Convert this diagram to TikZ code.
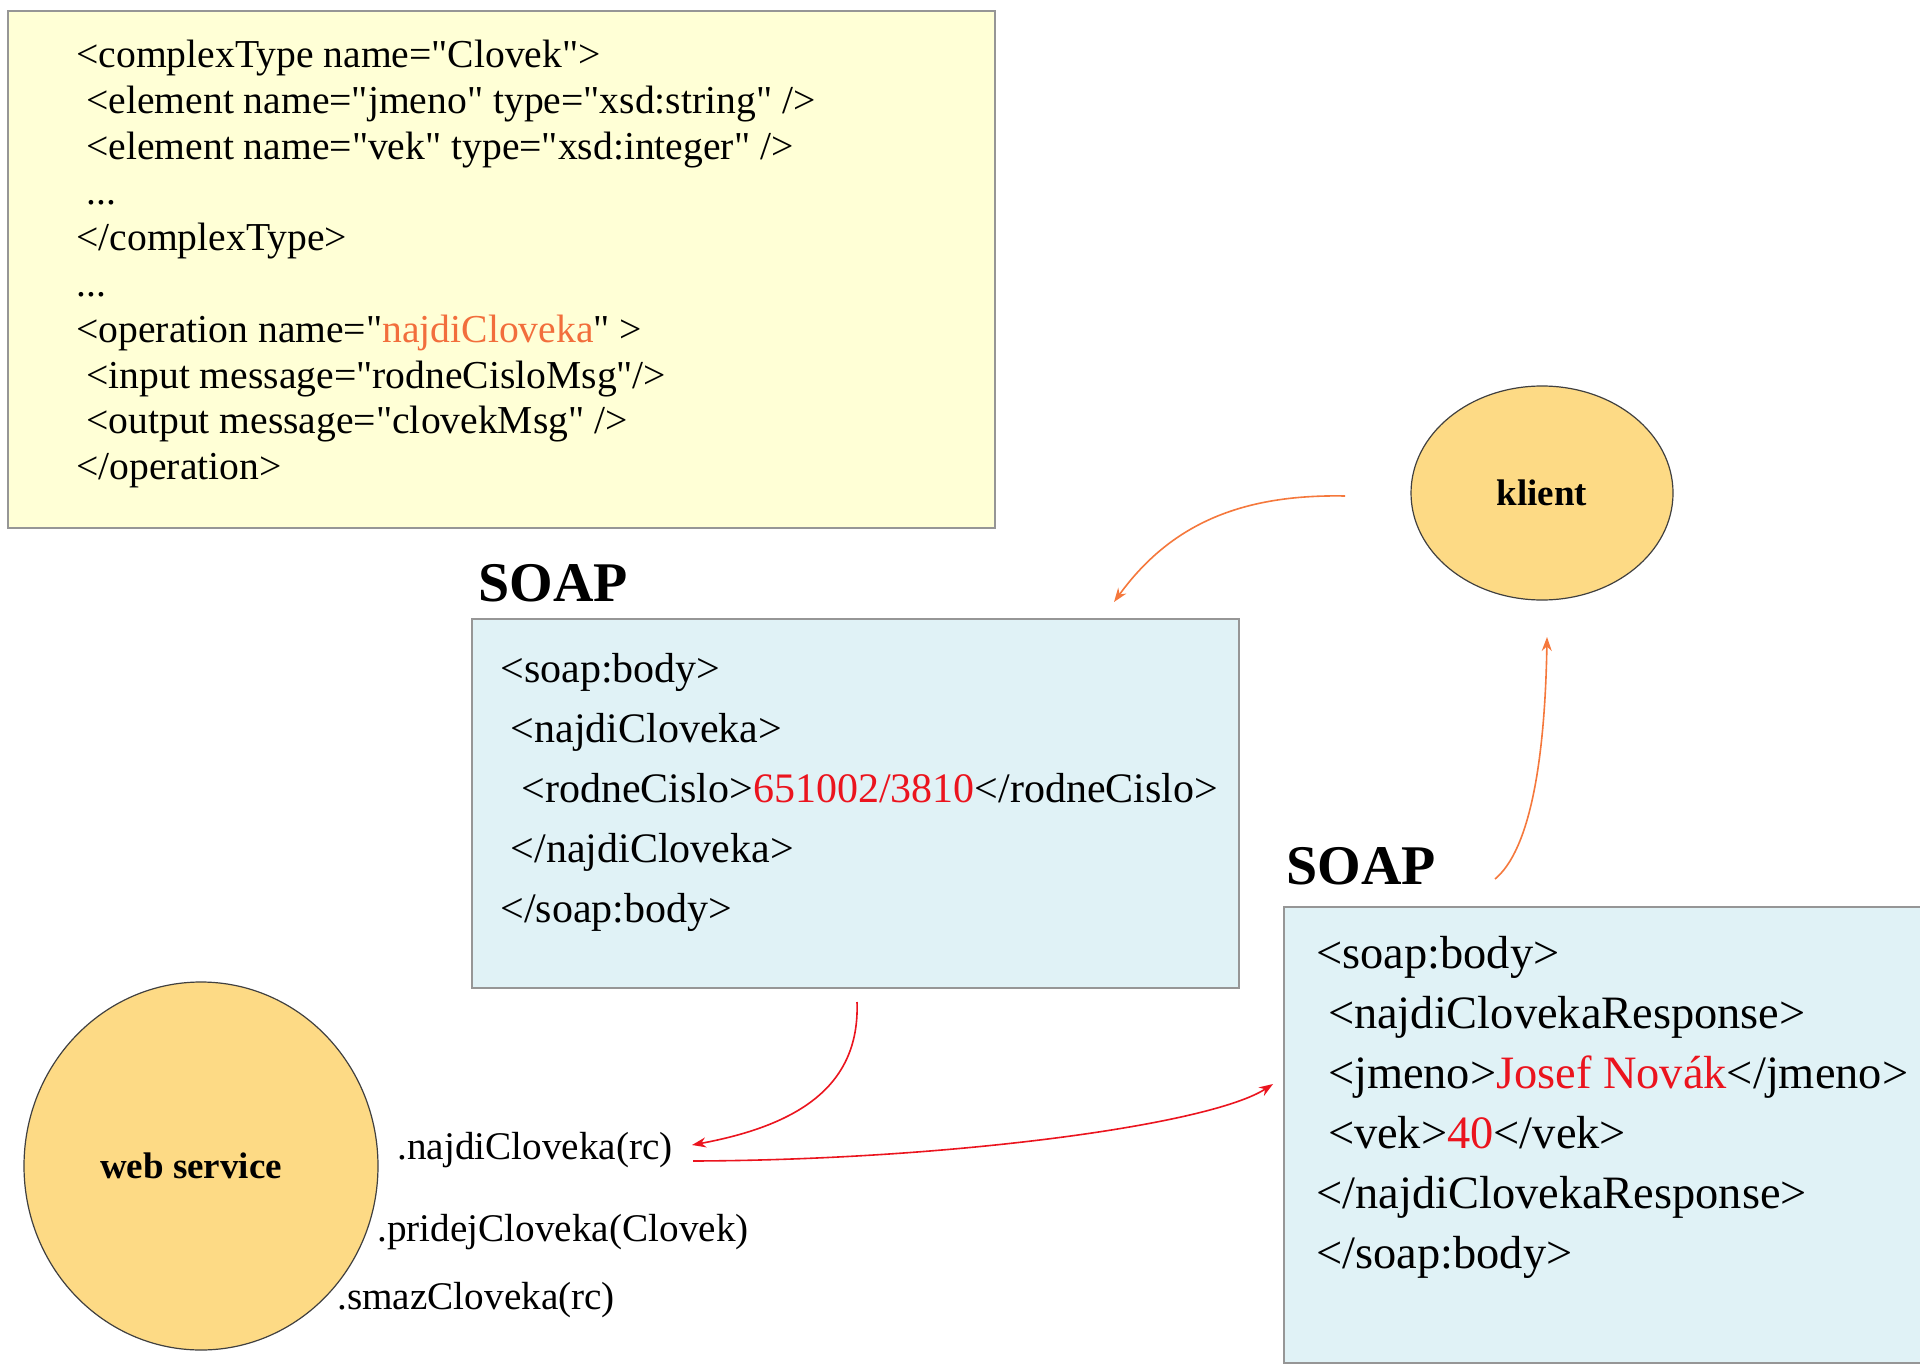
\documentclass[tikz,border=0pt]{standalone}
\usepackage{fontspec}
\setmainfont{Liberation Serif}[Ligatures=TeXOff]
\usetikzlibrary{arrows.meta,shapes.geometric}
\definecolor{boxyellow}{RGB}{255,255,214}
\definecolor{boxblue}{RGB}{224,242,246}
\definecolor{ellfill}{RGB}{253,218,133}
\definecolor{arrorange}{RGB}{245,120,60}
\definecolor{txtorange}{RGB}{242,110,60}
\definecolor{txtred}{RGB}{235,20,30}
\definecolor{bordergray}{RGB}{150,150,150}
\begin{document}
\begin{tikzpicture}[x=0.5pt,y=-0.5pt,
  panel/.style={draw=bordergray,line width=1pt,anchor=north west,inner sep=0pt},
  codeyellow/.style={anchor=west,align=left,inner sep=0pt,font=\fontsize{19.8}{22.9}\selectfont},
  codeblue/.style={anchor=west,align=left,inner sep=0pt,font=\fontsize{21}{30}\selectfont},
  codeblueb/.style={anchor=west,align=left,inner sep=0pt,font=\fontsize{23.2}{30}\selectfont},
  soaplabel/.style={anchor=west,inner sep=0pt,font=\fontsize{28}{32}\selectfont\bfseries},
  actor/.style={ellipse,draw=black!75,line width=0.6pt,fill=ellfill,inner sep=0pt,font=\fontsize{18.5}{22}\selectfont\bfseries},
  method/.style={anchor=west,inner sep=0pt,font=\fontsize{19.6}{23}\selectfont},
  orangearrow/.style={draw=arrorange,line width=0.8pt,-{Stealth[length=7pt,width=5pt]}},
  redarrow/.style={draw=txtred,line width=0.8pt,-{Stealth[length=7pt,width=5pt]}}]
\useasboundingbox (0,0) rectangle (1920,1369);
\fill[white] (0,0) rectangle (1920,1369);

% WSDL box
\node[panel,fill=boxyellow,minimum width=493.5pt,minimum height=258.5pt] (wsdl) at (7,10) {};
\node[codeyellow] (wsdltext) at (76,264) {%
<complexType name="Clovek">\\
~<element name="jmeno" type="xsd:string" />\\
~<element name="vek" type="xsd:integer" />\\
~...\\
</complexType>\\
...\\
<operation name="\textcolor{txtorange}{najdiCloveka}" >\\
~<input message="rodneCisloMsg"/>\\
~<output message="clovekMsg" />\\
</operation>};

% SOAP request
\node[soaplabel] (soap1) at (478,583) {SOAP};
\node[panel,fill=boxblue,minimum width=383.5pt,minimum height=184.5pt] (req) at (471,618) {};
\node[codeblue] (reqtext) at (500,792) {%
<soap:body>\\
~<najdiCloveka>\\
~~<rodneCislo>\textcolor{txtred}{651002/3810}</rodneCislo>\\
~</najdiCloveka>\\
</soap:body>};

% SOAP response
\node[soaplabel] (soap2) at (1286,866) {SOAP};
\node[panel,fill=boxblue,minimum width=322pt,minimum height=228pt] (resp) at (1283,906) {};
\node[codeblueb] (resptext) at (1316,1107) {%
<soap:body>\\
~<najdiClovekaResponse>\\
~<jmeno>\textcolor{txtred}{Josef Novák}</jmeno>\\
~<vek>\textcolor{txtred}{40}</vek>\\
</najdiClovekaResponse>\\
</soap:body>};

% actors
\node[actor,minimum width=131pt,minimum height=107pt] (klient) at (1542,493) {klient};
\node[actor,minimum width=177pt,minimum height=184pt] (ws) at (201,1166) {web service\hspace*{10pt}};

% methods
\node[method] (m1) at (397,1150) {.najdiCloveka(rc)};
\node[method] (m2) at (377,1232) {.pridejCloveka(Clovek)};
\node[method] (m3) at (337,1300) {.smazCloveka(rc)};

% connector end points
\coordinate (a1s) at (1345,496);
\coordinate (a1e) at (1114,602);
\coordinate (a2s) at (1495,879);
\coordinate (a2e) at (1547,637);
\coordinate (a3s) at (857,1002);
\coordinate (a3e) at (692,1145);
\coordinate (a4s) at (693,1161);
\coordinate (a4e) at (1273,1084);

\draw[orangearrow] (a1s) .. controls (1240,494) and (1170,525) .. (a1e);
\draw[orangearrow] (a2s) .. controls (1530,850) and (1545,760) .. (a2e);
\draw[redarrow] (a3s) .. controls (860,1085) and (800,1125) .. (a3e);
\draw[redarrow] (a4s) .. controls (950,1160) and (1210,1125) .. (a4e);
\end{tikzpicture}
\end{document}
